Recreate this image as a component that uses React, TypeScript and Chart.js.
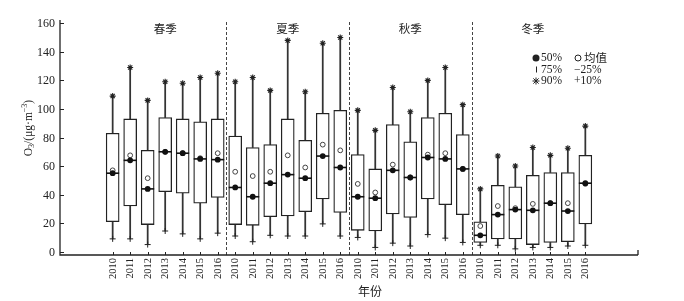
import { useEffect, useRef } from 'react';
import { Chart, registerables } from 'chart.js';

Chart.register(...registerables);

const seasons = ['春季', '夏季', '秋季', '冬季'];
const years = ['2010', '2011', '2012', '2013', '2014', '2015', '2016'];
const yTicks = [0, 20, 40, 60, 80, 100, 120, 140, 160];
const dividers = [6.5, 13.5, 20.5];

// order: spring 2010-2016, summer, autumn, winter
const p90 = [
  109, 129, 106, 119, 118, 122, 125,
  119, 122, 113, 148, 112, 146, 150,
  99, 85, 115, 98, 120, 129, 103,
  44, 67, 60, 73, 67.5, 72.5, 88,
];
const q3 = [
  83, 93, 71, 94, 93, 91, 93,
  81, 73, 75, 93, 78, 97, 99,
  68, 58, 89, 77, 94, 97, 82,
  21, 46.5, 45.5, 53.5, 55.5, 55.5, 67.5,
];
const median = [
  55, 64, 44, 70, 69, 65, 64.5,
  45, 38.5, 48, 54, 51.5, 67, 59,
  38.5, 37.5, 57, 52, 66, 65, 58,
  11.5, 26, 29.5, 29, 34, 28.5, 48,
];
const mean = [
  57, 67.5, 51.5, 70, 69, 65.5, 69,
  56, 53, 56, 67.5, 59, 75, 71,
  47.5, 41.5, 61, 52, 68, 69, 58,
  18, 32, 30.5, 33.5, 34, 34, 47.5,
];
const q1 = [
  21, 32, 19, 42, 41, 34, 38,
  19, 18.5, 24.5, 25, 28, 37, 27.5,
  15, 14.5, 26.5, 24, 37, 33, 26,
  6.5, 9, 9, 5, 6.5, 7, 19.5,
];
const p10 = [
  9, 9, 5, 14.5, 12.5, 9, 13,
  11, 7, 11.5, 11, 11, 19.5, 11,
  10, 3, 6, 4, 12, 9.5, 6.5,
  4.5, 4.5, 2, 3, 3, 4, 4.5,
];

const INK = '#222';
const SERIF = '"Liberation Serif", "DejaVu Serif", serif';
const CJK = '"Noto Sans CJK SC", sans-serif';

const decorPlugin = {
  id: 'decor',
  afterDatasetsDraw(chart: any) {
    const ctx: CanvasRenderingContext2D = chart.ctx;
    const xs = chart.scales.x;
    const ys = chart.scales.y;
    const { left, right, top, bottom } = chart.chartArea;
    ctx.save();

    // dashed dividers
    ctx.strokeStyle = '#444';
    ctx.lineWidth = 1;
    ctx.setLineDash([3, 2]);
    dividers.forEach((d) => {
      const x = Math.round(xs.getPixelForValue(d)) + 0.5;
      ctx.beginPath();
      ctx.moveTo(x, top + 2);
      ctx.lineTo(x, bottom);
      ctx.stroke();
    });
    ctx.setLineDash([]);

    // axes
    ctx.strokeStyle = INK;
    ctx.lineWidth = 1.3;
    ctx.beginPath();
    ctx.moveTo(left, top);
    ctx.lineTo(left, bottom);
    ctx.lineTo(right, bottom);
    ctx.stroke();
    ctx.beginPath();
    ctx.moveTo(right, bottom);
    ctx.lineTo(right, bottom - 5);
    ctx.stroke();

    // y ticks and labels
    ctx.fillStyle = INK;
    ctx.font = `12px ${SERIF}`;
    ctx.textAlign = 'right';
    ctx.textBaseline = 'middle';
    ctx.lineWidth = 1;
    yTicks.forEach((v) => {
      const y = Math.round(ys.getPixelForValue(v)) + 0.5;
      ctx.beginPath();
      ctx.moveTo(left, y);
      ctx.lineTo(left + 4, y);
      ctx.stroke();
      ctx.fillText(String(v), left - 5, y);
    });

    // x ticks and labels
    ctx.font = `10.5px ${SERIF}`;
    for (let i = 0; i < seasons.length * years.length; i++) {
      const x = Math.round(xs.getPixelForValue(i)) + 0.5;
      ctx.beginPath();
      ctx.moveTo(x, bottom);
      ctx.lineTo(x, bottom - 3);
      ctx.stroke();
      ctx.save();
      ctx.translate(x, bottom + 3);
      ctx.rotate(-Math.PI / 2);
      ctx.textAlign = 'right';
      ctx.textBaseline = 'middle';
      ctx.fillText(years[i % years.length], 0, 0);
      ctx.restore();
    }

    // season labels
    ctx.font = `11.5px ${CJK}`;
    ctx.textAlign = 'center';
    ctx.textBaseline = 'middle';
    seasons.forEach((s, k) => {
      const x = xs.getPixelForValue(k * years.length + 3);
      ctx.fillText(s, x, 29);
    });

    // x title
    ctx.font = `12px ${CJK}`;
    ctx.fillText('年份', 370, 291);

    // y title
    ctx.save();
    ctx.translate(29, 128);
    ctx.rotate(-Math.PI / 2);
    const parts = [
      { t: 'O', s: 11.5, dy: 0 },
      { t: '3', s: 8, dy: 3 },
      { t: '/(μg·m', s: 11.5, dy: 0 },
      { t: '−3', s: 8, dy: -4 },
      { t: ')', s: 11.5, dy: 0 },
    ];
    let w = 0;
    parts.forEach((p) => {
      ctx.font = `${p.s}px ${SERIF}`;
      w += ctx.measureText(p.t).width;
    });
    let cx = -w / 2;
    ctx.textAlign = 'left';
    ctx.textBaseline = 'middle';
    parts.forEach((p) => {
      ctx.font = `${p.s}px ${SERIF}`;
      ctx.fillText(p.t, cx, p.dy);
      cx += ctx.measureText(p.t).width;
    });
    ctx.restore();

    // legend
    const lx = 536;
    const l1 = 58;
    const l2 = 69.5;
    const l3 = 81;
    ctx.textAlign = 'left';
    ctx.textBaseline = 'middle';
    ctx.font = `11.5px ${SERIF}`;
    ctx.fillStyle = INK;
    ctx.beginPath();
    ctx.arc(lx, l1, 3.5, 0, Math.PI * 2);
    ctx.fill();
    ctx.fillText('50%', lx + 5, l1);
    ctx.lineWidth = 1;
    ctx.beginPath();
    ctx.arc(578, l1, 3, 0, Math.PI * 2);
    ctx.stroke();
    ctx.font = `11.5px ${CJK}`;
    ctx.fillText('均值', 584, l1);
    ctx.font = `11.5px ${SERIF}`;
    ctx.beginPath();
    ctx.moveTo(lx + 0.5, l2 - 3);
    ctx.lineTo(lx + 0.5, l2 + 3);
    ctx.stroke();
    ctx.fillText('75%', lx + 5, l2);
    ctx.fillText('−25%', 574, l2);
    // star symbol
    ctx.beginPath();
    const r = 3.5;
    ctx.moveTo(lx - r, l3);
    ctx.lineTo(lx + r, l3);
    ctx.moveTo(lx, l3 - r);
    ctx.lineTo(lx, l3 + r);
    ctx.moveTo(lx - r * 0.75, l3 - r * 0.75);
    ctx.lineTo(lx + r * 0.75, l3 + r * 0.75);
    ctx.moveTo(lx - r * 0.75, l3 + r * 0.75);
    ctx.lineTo(lx + r * 0.75, l3 - r * 0.75);
    ctx.stroke();
    ctx.fillText('90%', lx + 5, l3);
    ctx.fillText('+10%', 574, l3);

    ctx.restore();
  },
};

export default function App() {
  const ref = useRef<HTMLCanvasElement | null>(null);

  useEffect(() => {
    if (!ref.current) return;
    const n = q3.length;
    const idx = Array.from({ length: n }, (_, i) => i);
    const pts = (arr: number[]) => idx.map((i) => ({ x: i, y: arr[i] }));

    const chart = new Chart(ref.current, {
      type: 'bar',
      data: {
        datasets: [
          {
            type: 'bar',
            data: idx.map((i) => ({ x: i, y: [q3[i], p90[i]] })),
            backgroundColor: '#333',
            borderWidth: 0,
            barThickness: 1.1,
            grouped: false,
            order: 12,
          } as any,
          {
            type: 'bar',
            data: idx.map((i) => ({ x: i, y: [p10[i], q1[i]] })),
            backgroundColor: '#333',
            borderWidth: 0,
            barThickness: 1.1,
            grouped: false,
            order: 11,
          } as any,
          {
            type: 'bar',
            data: idx.map((i) => ({ x: i, y: [q1[i], q3[i]] })),
            backgroundColor: '#ffffff',
            borderColor: INK,
            borderWidth: 1.3,
            borderSkipped: false,
            barThickness: 13,
            grouped: false,
            order: 10,
          } as any,
          {
            type: 'scatter',
            data: pts(mean),
            pointStyle: 'circle',
            pointRadius: 2.4,
            backgroundColor: '#ffffff',
            borderColor: '#444',
            borderWidth: 1,
            order: 7,
          } as any,
          {
            type: 'scatter',
            data: pts(median),
            pointStyle: 'line',
            pointRadius: 6.5,
            borderColor: '#111',
            borderWidth: 1.6,
            order: 5,
          } as any,
          {
            type: 'scatter',
            data: pts(median),
            pointStyle: 'circle',
            pointRadius: 2.9,
            backgroundColor: '#111',
            borderWidth: 0,
            order: 4,
          } as any,
          {
            type: 'scatter',
            data: pts(p90),
            pointStyle: 'star',
            pointRadius: 3,
            borderColor: '#222',
            borderWidth: 1.1,
            order: 2,
          } as any,
          {
            type: 'scatter',
            data: pts(p10),
            pointStyle: 'cross',
            pointRadius: 3,
            borderColor: '#222',
            borderWidth: 1,
            order: 2,
          } as any,
        ],
      },
      options: {
        responsive: false,
        animation: false,
        devicePixelRatio: 1,
        layout: { padding: { left: 60, right: 46, top: 20, bottom: 46 } },
        plugins: { legend: { display: false }, tooltip: { enabled: false } },
        scales: {
          x: { type: 'linear', min: -0.65, max: 27.65, display: false },
          y: { type: 'linear', min: -2.3, max: 162.3, display: false },
        },
      },
      plugins: [decorPlugin],
    });
    return () => chart.destroy();
  }, []);

  return (
    <div style={{ position: 'absolute', left: 0, top: 0, width: 684, height: 301, background: '#fff' }}>
      <canvas ref={ref} width={684} height={301} />
    </div>
  );
}
